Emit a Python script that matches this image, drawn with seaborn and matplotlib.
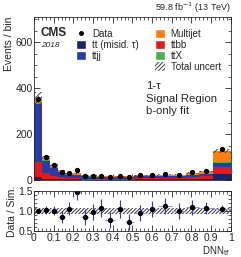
import numpy as np
import pandas as pd
import matplotlib
matplotlib.use('Agg')
import matplotlib.pyplot as plt
import seaborn as sns
from matplotlib.patches import Patch
from matplotlib.lines import Line2D
from matplotlib.ticker import MultipleLocator

# bin edges of DNN_tf
edges = [0, 0.04, 0.08, 0.12, 0.16, 0.20, 0.24, 0.28, 0.32, 0.36, 0.41,
         0.46, 0.51, 0.57, 0.63, 0.70, 0.77, 0.84, 0.91, 1.0]

# stacked processes (bottom to top)
misid = [15, 8, 6, 5, 4, 4, 3, 3, 3, 3, 3, 3, 4, 4, 4, 4, 5, 6, 26]
ttbb = [65, 25, 14, 10, 7, 6, 5, 5, 4.5, 5, 5, 5, 7, 7, 8, 8, 10, 12, 32]
ttjj = [250, 52, 36, 21, 14, 13, 9, 8, 7, 6.5, 6, 6, 7, 7, 7, 6, 7, 8, 19]
ttx = [7, 2, 2, 1.5, 1, 1, 1, 1, 1, 1, 1, 1, 1, 1, 1, 1, 1.5, 2, 5]
multijet = [18, 10, 8, 6.5, 5, 6, 4, 3.5, 3, 3.5, 3, 3, 4, 4, 5, 6, 8.5, 11, 46]

data = [352, 100, 67, 38, 33, 44, 19, 20, 20, 15, 19, 13, 22, 24, 28, 25, 35, 42, 136]
data_err = [12, 8, 7, 5, 5, 5, 4, 4, 4, 4, 4, 4, 4, 4, 5, 5, 5, 6, 10]
ratio_err = [0.05, 0.10, 0.12, 0.15, 0.17, 0.20, 0.20, 0.20, 0.22, 0.20,
             0.22, 0.20, 0.20, 0.20, 0.20, 0.20, 0.18, 0.16, 0.09]
rel_unc = [0.08, 0.07, 0.07, 0.07, 0.07, 0.08, 0.08, 0.08, 0.08, 0.08,
           0.08, 0.08, 0.08, 0.08, 0.08, 0.08, 0.08, 0.08, 0.07]

procs = ['tt (misid. τ)', 'ttbb', 'ttjj', 'ttX', 'Multijet']
colors = {'tt (misid. τ)': '#1b2466', 'ttbb': '#e31a1c', 'ttjj': '#2a3aa6',
          'ttX': '#4cae4c', 'Multijet': '#fd7f0e'}

edges_a = np.array(edges)
centers = 0.5 * (edges_a[1:] + edges_a[:-1])
halfw = 0.5 * (edges_a[1:] - edges_a[:-1])
yields = [misid, ttbb, ttjj, ttx, multijet]
total = np.sum(np.array(yields), axis=0)
data = np.array(data)
ratio = data / total

rows = []
for p, y in zip(procs, yields):
    for c, v in zip(centers, y):
        rows.append({'x': c, 'w': v, 'proc': p})
df = pd.DataFrame(rows)

sns.set_style('ticks')
plt.rcParams['font.family'] = ['Liberation Sans', 'DejaVu Sans']
plt.rcParams['hatch.linewidth'] = 0.7
plt.rcParams['xtick.direction'] = 'in'
plt.rcParams['ytick.direction'] = 'in'

fig = plt.figure(figsize=(2.41, 2.57), dpi=100)
ax = fig.add_axes([0.141, 0.298, 0.817, 0.637])
rax = fig.add_axes([0.141, 0.100, 0.817, 0.157])

sns.histplot(data=df, x='x', weights='w', hue='proc', hue_order=procs[::-1],
             bins=list(edges), multiple='stack', palette=colors, alpha=1,
             linewidth=0, legend=False, ax=ax)

# total uncertainty hatch
ax.bar(centers, 2 * total * np.array(rel_unc), width=2 * halfw,
       bottom=total * (1 - np.array(rel_unc)), fill=False, hatch='//////',
       edgecolor='#444444', linewidth=0)

ax.errorbar(centers, data, yerr=data_err, fmt='o',
            color='black', ms=2.8, elinewidth=0.7, capsize=0)

ax.set_xlim(0, 1)
ax.set_ylim(0, 710)
ax.set_xlabel('')
ax.set_ylabel('Events / bin', fontsize=7.5, loc='top', labelpad=1)
ax.set_xticklabels([])
ax.yaxis.set_major_locator(MultipleLocator(200))
ax.yaxis.set_minor_locator(MultipleLocator(50))
ax.xaxis.set_major_locator(MultipleLocator(0.1))
ax.xaxis.set_minor_locator(MultipleLocator(0.02))
ax.tick_params(which='both', top=True, right=True, labelsize=7.5, pad=1)
ax.tick_params(which='major', length=4, width=0.6)
ax.tick_params(which='minor', length=2, width=0.5)

ax.text(0.035, 0.935, 'CMS', transform=ax.transAxes, fontsize=8.5,
        fontweight='bold', va='top')
ax.text(0.035, 0.845, '2018', transform=ax.transAxes, fontsize=6,
        style='italic', va='top')
ax.text(1.0, 1.01, '59.8 fb$^{-1}$ (13 TeV)', transform=ax.transAxes,
        fontsize=6.5, ha='right', va='bottom')
ax.text(0.57, 0.605, '1-τ\nSignal Region\nb-only fit', transform=ax.transAxes,
        fontsize=8.2, va='top', linespacing=1.3)

handles = [Line2D([], [], marker='o', color='black', ls='none', ms=2.5),
           Patch(facecolor=colors['tt (misid. τ)']),
           Patch(facecolor=colors['ttjj']),
           Patch(visible=False),
           Patch(facecolor=colors['Multijet']),
           Patch(facecolor=colors['ttbb']),
           Patch(facecolor=colors['ttX']),
           Patch(facecolor='white', hatch='////////', edgecolor='#444444', linewidth=0)]
labels = ['Data', 'tt (misid. τ)', 'ttjj', '', 'Multijet', 'ttbb', 'ttX', 'Total uncert']
ax.legend(handles, labels, ncol=2, loc='upper left', bbox_to_anchor=(0.19, 0.955),
          frameon=False, fontsize=7, handlelength=1.05, handleheight=1.05,
          handletextpad=0.6, columnspacing=1.6, labelspacing=0.1, borderpad=0)

# ratio panel
unc = np.array(rel_unc)
rax.fill_between(edges_a, np.append(1 - unc, 1 - unc[-1]), np.append(1 + unc, 1 + unc[-1]),
                 step='post', facecolor='none', hatch='/////////',
                 edgecolor='#333333', linewidth=0)
rax.errorbar(centers, ratio, xerr=halfw, fmt='none', ecolor='#9a9ad8',
             elinewidth=0.8, capsize=0)
rax.errorbar(centers, ratio, yerr=ratio_err, fmt='o', color='black', ms=2.8,
             ecolor='#3535c0', elinewidth=0.8, capsize=0)
rax.set_xlim(0, 1)
rax.set_ylim(0.5, 1.5)
rax.xaxis.set_minor_locator(MultipleLocator(0.02))
rax.yaxis.set_minor_locator(MultipleLocator(0.1))
rax.set_xticks(np.arange(0, 1.01, 0.1))
rax.set_xticklabels(['0', '0.1', '0.2', '0.3', '0.4', '0.5', '0.6', '0.7', '0.8', '0.9', '1'])
rax.set_yticks([0.5, 1.0, 1.5])
rax.set_yticklabels(['0.5', '1.0', '1.5'])
rax.tick_params(which='both', top=True, right=True, labelsize=7.5, pad=1)
rax.tick_params(which='major', length=4, width=0.6)
rax.tick_params(which='minor', length=2, width=0.5)
rax.set_xlabel(r'DNN$_{\mathrm{tf}}$', fontsize=7, loc='right', labelpad=1)
rax.set_ylabel('Data / Sim.', fontsize=7.5, labelpad=1)

for a in (ax, rax):
    for s in a.spines.values():
        s.set_linewidth(0.6)

fig.savefig('out.png', dpi=100)
